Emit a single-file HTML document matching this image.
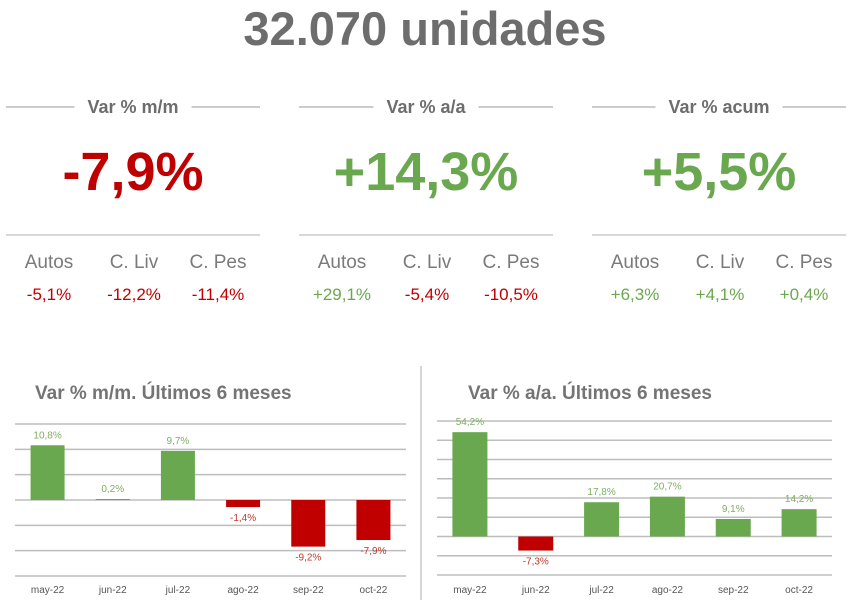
<!DOCTYPE html>
<html><head><meta charset="utf-8"><style>
body{margin:0;background:#fff;}
svg{display:block;font-family:"Liberation Sans",sans-serif;}
</style></head><body>
<svg id="s" width="851" height="601" viewBox="0 0 851 601">
<text x="425" y="45" text-anchor="middle" font-size="47" font-weight="bold" fill="#6d6d6d">32.070  unidades</text>
<g id="kpis"></g>
<line x1="421" y1="366" x2="421" y2="600" stroke="#c8c8c8" stroke-width="1.5"/>
<text x="35" y="399" font-size="19" font-weight="bold" fill="#747474">Var % m/m. Últimos 6 meses</text>
<text x="468" y="399" font-size="19" font-weight="bold" fill="#747474">Var % a/a. Últimos 6 meses</text>
<g id="c1"></g><g id="c2"></g>
</svg>
<script>
const months = ["may-22","jun-22","jul-22","ago-22","sep-22","oct-22"];
const mmValues = [10.8,0.2,9.7,-1.4,-9.2,-7.9];
const aaValues = [54.2,-7.3,17.8,20.7,9.1,14.2];
const mmTicks = [-15,-10,-5,0,5,10,15];
const aaTicks = [-20,-10,0,10,20,30,40,50,60];
const kpiTitles = ["Var % m/m","Var % a/a","Var % acum"];
const kpiMain = ["-7,9%","+14,3%","+5,5%"];
const subLabels = ["Autos","C. Liv","C. Pes"];
const subValues = [["-5,1%","-12,2%","-11,4%"],["+29,1%","-5,4%","-10,5%"],["+6,3%","+4,1%","+0,4%"]];
const NS="http://www.w3.org/2000/svg";
const GREEN="#6aa84f", RED="#c00000";
function mk(p,t,a){const e=document.createElementNS(NS,t);for(const k in a)e.setAttribute(k,a[k]);p.appendChild(e);return e;}
const kp=document.getElementById('kpis');
[6,299,592].forEach((px,i)=>{
  const t=mk(kp,'text',{x:px+127,y:113,'text-anchor':'middle','font-size':18,'font-weight':'bold',fill:'#6d6d6d'});t.textContent=kpiTitles[i];
  
  
  const hw=t.getComputedTextLength()/2+13;
  const l1=mk(kp,'line',{x1:px,y1:107,x2:px+127-hw,y2:107,stroke:'#9a9a9a','stroke-width':1});
  
  
  const l2=mk(kp,'line',{x1:px+127+hw,y1:107,x2:px+254,y2:107,stroke:'#9a9a9a','stroke-width':1});
  
  
  const neg=kpiMain[i][0]=='-';
  const m=mk(kp,'text',{x:px+127,y:190,'text-anchor':'middle','font-size':54,'font-weight':'bold',fill:neg?RED:GREEN});m.textContent=kpiMain[i];
  
  
  const l3=mk(kp,'line',{x1:px,y1:235,x2:px+254,y2:235,stroke:'#b0b0b0','stroke-width':1});
  
  
  [43,128,212].forEach((dx,j)=>{
    const a=mk(kp,'text',{x:px+dx,y:268,'text-anchor':'middle','font-size':19,fill:'#7a7a7a'});a.textContent=subLabels[j];
    
    
    const v=subValues[i][j];
    const b=mk(kp,'text',{x:px+dx,y:300,'text-anchor':'middle','font-size':17,fill:v[0]=='-'?RED:GREEN});b.textContent=v;
    
    
  });
});
function chart(id,vals,ticks,x0,x1,yTop,yBot,bw,labelY){
  const g=document.getElementById(id);
  const mn=ticks[0],mx=ticks[ticks.length-1];
  const y=v=>yBot-(v-mn)/(mx-mn)*(yBot-yTop);
  const cw=(x1-x0)/vals.length;
  ticks.forEach(t=>{const l=mk(g,'line',{x1:x0,y1:y(t),x2:x1,y2:y(t),stroke:'#bdbdbd','stroke-width':1.5});
    
    });
  vals.forEach((v,i)=>{
    const cx=x0+cw*(i+0.5);
    const pos=v>=0;
    const r=mk(g,'rect',{x:cx-bw/2,y:Math.min(y(v),y(0)),width:bw,height:Math.max(Math.abs(y(v)-y(0)),0.8),fill:pos?GREEN:RED});
    
    
    const lt=mk(g,'text',{x:cx,y:pos?y(v)-7:y(v)+14,'text-anchor':'middle','font-size':10,fill:pos?'#7fae62':'#c0392b'});
    lt.textContent=v.toFixed(1).replace('.',',')+'%';
    
    
    const xl=mk(g,'text',{x:cx,y:labelY,'text-anchor':'middle','font-size':10,fill:'#555'});xl.textContent=months[i];
    
    
  });
}
chart('c1',mmValues,mmTicks,15,406,424,576,34,593);
chart('c2',aaValues,aaTicks,437,832,421,575,35,593);
</script>
</body></html>
